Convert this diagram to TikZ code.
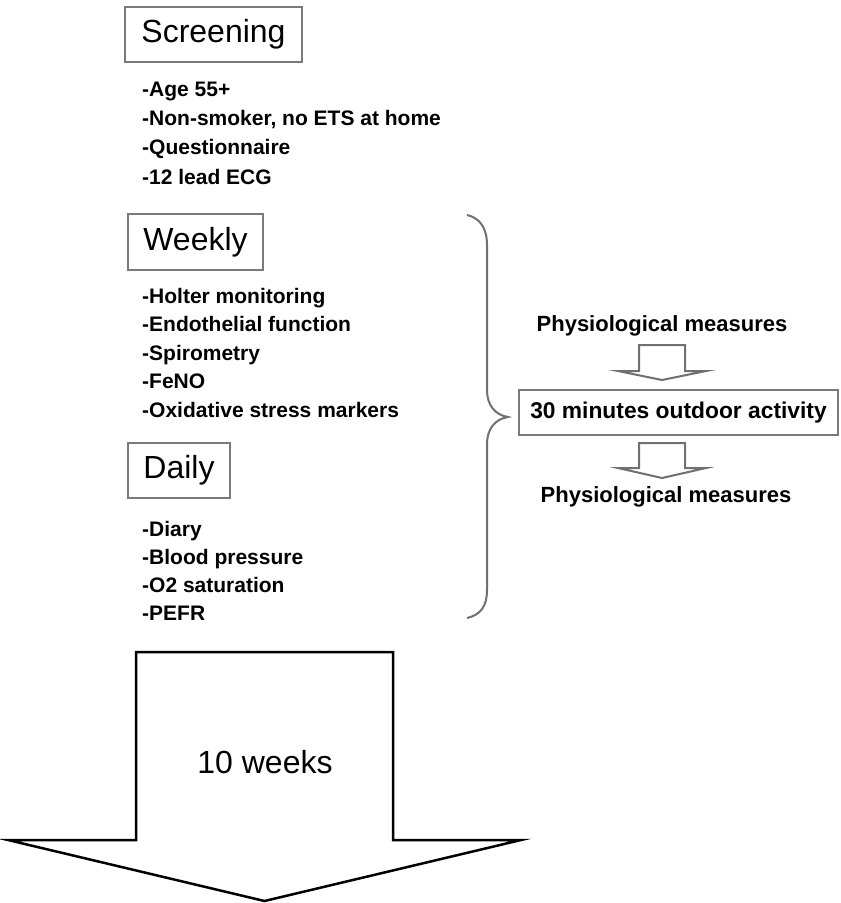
\documentclass[tikz,border=0pt]{standalone}
\usepackage{fontspec}
\setmainfont{Liberation Sans}
\definecolor{boxgray}{HTML}{7A7A7A}
\definecolor{linegray}{HTML}{707070}
\begin{document}
\begin{tikzpicture}[x=1pt,y=-1pt,
  headbox/.style={draw=boxgray, line width=2pt, inner sep=0pt, font=\fontsize{32}{36}\selectfont},
  item/.style={anchor=base west, inner sep=0pt, font=\fontsize{21}{25}\bfseries\selectfont},
  ritem/.style={inner sep=0pt, font=\fontsize{22}{26}\bfseries\selectfont},
  smallarrow/.style={draw=linegray, line width=2pt, line join=miter},
  bigarrow/.style={draw=black, line width=2.5pt, line join=miter},
  bracestyle/.style={draw=linegray, line width=2pt}]
\useasboundingbox (0,0) rectangle (841,903);

% headings
\node[headbox, minimum width=177pt, minimum height=55pt] (screen) at (213.5,34.5) {Screening};
\node[headbox, minimum width=135pt, minimum height=56pt] (weekly) at (195.5,242) {Weekly};
\node[headbox, minimum width=102pt, minimum height=55pt] (daily) at (179,470.5) {Daily};

% screening list
\node[item] (s1) at (142,96) {-Age 55+};
\node[item] (s2) at (142,125) {-Non-smoker, no ETS at home};
\node[item] (s3) at (142,154.5) {-Questionnaire};
\node[item] (s4) at (142,184) {-12 lead ECG};

% weekly list
\node[item] (w1) at (142,303) {-Holter monitoring};
\node[item] (w2) at (142,331.5) {-Endothelial function};
\node[item] (w3) at (142,360) {-Spirometry};
\node[item] (w4) at (142,388.5) {-FeNO};
\node[item] (w5) at (142,417) {-Oxidative stress markers};

% daily list
\node[item] (d1) at (142,536) {-Diary};
\node[item] (d2) at (142,564) {-Blood pressure};
\node[item] (d3) at (142,592) {-O2 saturation};
\node[item] (d4) at (142,620) {-PEFR};

% brace
\coordinate (btop) at (467,215);
\coordinate (btip) at (508,417);
\coordinate (bbot) at (467,618);
\draw[bracestyle] (btop) .. controls (480,218) and (487,228) .. (487,245)
  -- (487,390) .. controls (487,405) and (495,415) .. (btip)
  .. controls (495,419) and (487,429) .. (487,444)
  -- (487,590) .. controls (487,607) and (480,615) .. (bbot);

% right side
\node[ritem] (p1) at (662,326) {Physiological measures};
\node[draw=boxgray, line width=2pt, minimum width=319pt, minimum height=45pt, inner sep=0pt,
      font=\fontsize{22.8}{26}\bfseries\selectfont] (act) at (678.5,412.5) {30 minutes outdoor activity};
\node[ritem] (p2) at (666,497) {Physiological measures};

% small block arrows
\draw[smallarrow] (639,371) -- (639,345) -- (685,345) -- (685,371) -- (706,371) -- (662,380) -- (618,371) -- cycle;
\draw[smallarrow] (639,468) -- (639,443) -- (685,443) -- (685,468) -- (706,468) -- (662,478) -- (618,468) -- cycle;

% big block arrow
\draw[bigarrow] (136,840) -- (136,652) -- (393,652) -- (393,840) -- (521,840) -- (264.5,901) -- (8,840) -- cycle;
\node[inner sep=0pt, font=\fontsize{32}{36}\selectfont] (weeks) at (265,762) {10 weeks};
\end{tikzpicture}
\end{document}
